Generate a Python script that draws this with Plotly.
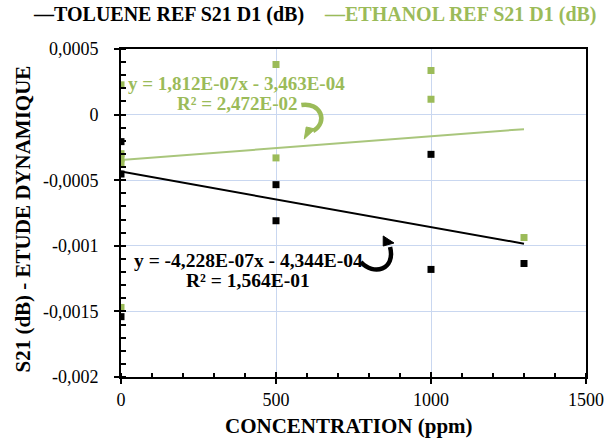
import numpy as np
import plotly.graph_objects as go

# ---------------- data ----------------
tol_x = [0, 0, 0, 500, 500, 1000, 1000, 1300]
tol_y = [-0.000206, -0.000453, -0.00154, -0.000534, -0.000809, -0.000303, -0.00118, -0.001135]

eth_x = [0, 0, 0, 0, 0, 500, 500, 1000, 1000, 1300]
eth_y = [0.000227, -0.000298, -0.000336, -0.000374, -0.00147, 0.000382, -0.00033, 0.000336, 0.000117, -0.000937]

tol_slope, tol_intercept = -4.228e-07, -4.344e-04
eth_slope, eth_intercept = 1.812e-07, -3.463e-04
trend_x = [0, 1300]

tol_eq = ["y = -4,228E-07x - 4,344E-04", "R² = 1,564E-01"]
eth_eq = ["y = 1,812E-07x - 3,463E-04", "R² = 2,472E-02"]

legend_labels = ["—TOLUENE REF S21 D1 (dB)", "—ETHANOL REF S21 D1 (dB)"]

y_tickvals = [0.0005, 0, -0.0005, -0.001, -0.0015, -0.002]
y_ticktext = ["0,0005", "0", "-0,0005", "-0,001", "-0,0015", "-0,002"]
x_tickvals = [0, 500, 1000, 1500]
x_ticktext = ["0", "500", "1000", "1500"]

x_title = "CONCENTRATION (ppm)"
y_title = "S21 (dB) - ETUDE DYNAMIQUE"

# ---------------- style ----------------
BLACK = "#000000"
GREEN = "#9BBB59"
GREEN_LINE = "#A9C67C"
GRID = "#C9D7F0"
FONT = "'Liberation Serif', Tinos, 'Times New Roman', Times, 'DejaVu Serif', serif"

W, H = 616, 440
ML, MR, MT, MB = 121, 18, 49, 63
PW, PH = W - ML - MR, H - MT - MB


def px(X):
    return (X - ML) / PW


def py(Y):
    return (H - MB - Y) / PH


def path_px(cmds):
    out = []
    for c in cmds:
        if isinstance(c, str):
            out.append(c)
        else:
            out.append(f"{px(c[0]):.5f},{py(c[1]):.5f}")
    return " ".join(out)


fig = go.Figure()

tl = np.array(trend_x, dtype=float)
fig.add_trace(go.Scatter(x=tl, y=eth_slope * tl + eth_intercept, mode="lines",
                         line=dict(color=GREEN_LINE, width=2), showlegend=False, hoverinfo="skip"))
fig.add_trace(go.Scatter(x=tl, y=tol_slope * tl + tol_intercept, mode="lines",
                         line=dict(color=BLACK, width=2), showlegend=False, hoverinfo="skip"))
fig.add_trace(go.Scatter(x=eth_x, y=eth_y, mode="markers",
                         marker=dict(symbol="square", size=7, color=GREEN, line=dict(width=0)),
                         showlegend=False))
fig.add_trace(go.Scatter(x=tol_x, y=tol_y, mode="markers",
                         marker=dict(symbol="square", size=7, color=BLACK, line=dict(width=0)),
                         showlegend=False))
# invisible trace to activate overlay axes (crossing major ticks)
fig.add_trace(go.Scatter(x=[None], y=[None], xaxis="x2", yaxis="y2", showlegend=False, hoverinfo="skip"))

tickfont = dict(family=FONT, size=18, color=BLACK)

fig.update_layout(
    width=W, height=H,
    margin=dict(l=ML, r=MR, t=MT, b=MB),
    paper_bgcolor="white", plot_bgcolor="white",
    showlegend=False,
    xaxis=dict(range=[0, 1500], tickmode="array", tickvals=x_tickvals, ticktext=x_ticktext,
               showgrid=True, gridcolor=GRID, gridwidth=1, zeroline=False,
               showline=True, linecolor=BLACK, linewidth=2, mirror=True,
               ticks="outside", ticklen=5, tickwidth=1.5, tickcolor=BLACK,
               minor=dict(dtick=100, tick0=0, ticks="inside", ticklen=4, tickwidth=1.5,
                          tickcolor=BLACK, showgrid=False),
               tickfont=tickfont, ticklabelstandoff=0),
    yaxis=dict(range=[-0.002, 0.0005], tickmode="array", tickvals=y_tickvals, ticktext=y_ticktext,
               showgrid=True, gridcolor=GRID, gridwidth=1, zeroline=False,
               showline=True, linecolor=BLACK, linewidth=2, mirror=True,
               ticks="outside", ticklen=5, tickwidth=1.5, tickcolor=BLACK,
               minor=dict(dtick=0.0001, tick0=0, ticks="inside", ticklen=5, tickwidth=1.5,
                          tickcolor=BLACK, showgrid=False),
               tickfont=tickfont, ticklabelstandoff=12),
    xaxis2=dict(range=[0, 1500], overlaying="x", anchor="y", tickmode="array", tickvals=x_tickvals,
                showticklabels=False, ticks="inside", ticklen=5, tickwidth=1.5, tickcolor=BLACK,
                showgrid=False, zeroline=False, showline=False, side="bottom"),
    yaxis2=dict(range=[-0.002, 0.0005], overlaying="y", anchor="x", tickmode="array", tickvals=y_tickvals,
                showticklabels=False, ticks="inside", ticklen=5, tickwidth=1.5, tickcolor=BLACK,
                showgrid=False, zeroline=False, showline=False, side="left"),
)

ann = []
# legend
ann.append(dict(text=f"<b>{legend_labels[0]}</b>", x=px(29), y=py(14), xanchor="left", yanchor="middle",
                font=dict(family=FONT, size=20, color=BLACK)))
ann.append(dict(text=f"<b>{legend_labels[1]}</b>", x=px(327), y=py(14), xanchor="left", yanchor="middle",
                font=dict(family=FONT, size=20, color=GREEN)))
# equations
ann.append(dict(text=f"<b>{eth_eq[0]}</b>", x=px(239), y=py(83), xanchor="center", yanchor="middle",
                font=dict(family=FONT, size=19, color=GREEN)))
ann.append(dict(text=f"<b>{eth_eq[1]}</b>", x=px(240), y=py(103), xanchor="center", yanchor="middle",
                font=dict(family=FONT, size=19, color=GREEN)))
ann.append(dict(text=f"<b>{tol_eq[0]}</b>", x=px(252), y=py(260), xanchor="center", yanchor="middle",
                font=dict(family=FONT, size=19.5, color=BLACK)))
ann.append(dict(text=f"<b>{tol_eq[1]}</b>", x=px(251), y=py(280), xanchor="center", yanchor="middle",
                font=dict(family=FONT, size=19.5, color=BLACK)))
# axis titles
ann.append(dict(text=f"<b>{x_title}</b>", x=px(355), y=py(426), xanchor="center", yanchor="middle",
                font=dict(family=FONT, size=21, color=BLACK)))
ann.append(dict(text=f"<b>{y_title}</b>", x=px(20), y=py(219), xanchor="center", yanchor="middle",
                textangle=-90, font=dict(family=FONT, size=21, color=BLACK)))
for a in ann:
    a.update(xref="paper", yref="paper", showarrow=False)
fig.update_layout(annotations=ann)

# curved arrows
shapes = [
    dict(type="path", path=path_px(["M", (306, 105), "C", (326, 102), (334, 122), (318, 131)]),
         line=dict(color=GREEN, width=4.5)),
    dict(type="path", path=path_px(["M", (309, 139), "L", (320, 129), "L", (311, 127), "Z"]),
         line=dict(color=GREEN, width=1), fillcolor=GREEN),
    dict(type="path", path=path_px(["M", (367, 262), "C", (380, 276), (403, 270), (397, 247)]),
         line=dict(color=BLACK, width=4.5)),
    dict(type="path", path=path_px(["M", (390, 236), "L", (401, 243), "L", (390, 246), "Z"]),
         line=dict(color=BLACK, width=1), fillcolor=BLACK),
]
for s in shapes:
    s.update(xref="paper", yref="paper")
fig.update_layout(shapes=shapes)

fig.write_html("out.html", config={"displayModeBar": False},
               post_script="document.body.style.margin='0px';document.body.style.padding='0px';")
